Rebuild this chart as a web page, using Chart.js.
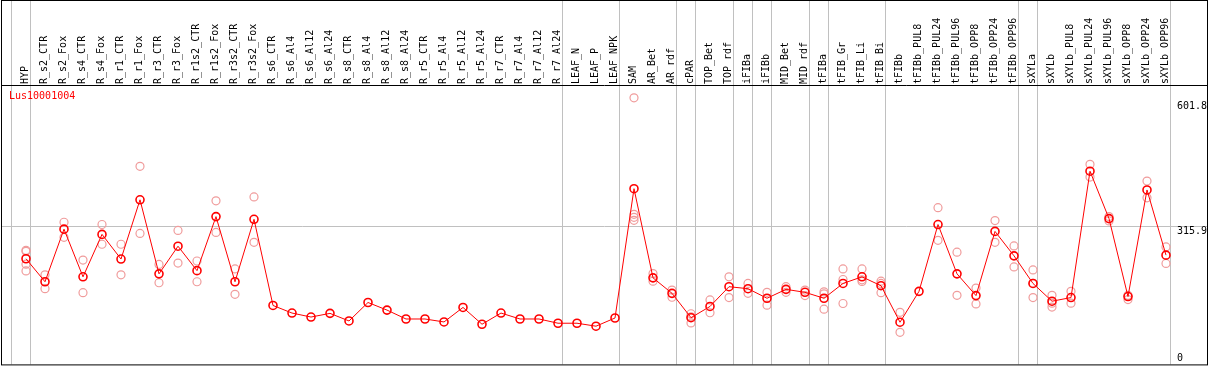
<!DOCTYPE html>
<html>
<head>
<meta charset="utf-8">
<script src="https://cdn.jsdelivr.net/npm/chart.js@4"></script>
<style>
  html, body { margin: 0; padding: 0; background: #fff; }
  canvas { display: block; }
</style>
</head>
<body>
<canvas id="expr" width="1209" height="370"></canvas>
<script>
const N = null;

// sample names along the top
const categories = [
  'HYP', 'R_s2_CTR', 'R_s2_Fox', 'R_s4_CTR', 'R_s4_Fox', 'R_r1_CTR', 'R_r1_Fox', 'R_r3_CTR', 'R_r3_Fox', 'R_r1s2_CTR',
  'R_r1s2_Fox', 'R_r3s2_CTR', 'R_r3s2_Fox', 'R_s6_CTR', 'R_s6_Al4', 'R_s6_Al12', 'R_s6_Al24', 'R_s8_CTR', 'R_s8_Al4', 'R_s8_Al12',
  'R_s8_Al24', 'R_r5_CTR', 'R_r5_Al4', 'R_r5_Al12', 'R_r5_Al24', 'R_r7_CTR', 'R_r7_Al4', 'R_r7_Al12', 'R_r7_Al24', 'LEAF_N',
  'LEAF_P', 'LEAF_NPK', 'SAM', 'AR_Bet', 'AR_rdf', 'cPAR', 'TOP_Bet', 'TOP_rdf', 'iFIBa', 'iFIBb',
  'MID_Bet', 'MID_rdf', 'tFIBa', 'tFIB_Gr', 'tFIB_Li', 'tFIB_Bi', 'tFIBb', 'tFIBb_PUL8', 'tFIBb_PUL24', 'tFIBb_PUL96',
  'tFIBb_OPP8', 'tFIBb_OPP24', 'tFIBb_OPP96', 'sXYLa', 'sXYLb', 'sXYLb_PUL8', 'sXYLb_PUL24', 'sXYLb_PUL96', 'sXYLb_OPP8', 'sXYLb_OPP24',
  'sXYLb_OPP96'
];

// mean expression per sample
const meanVals = [
  242.0, 189.3, 309.8, 200.6, 297.8, 241.3, 377.0, 207.4, 270.7, 214.8,
  338.5, 189.3, 332.4, 135.0, 117.6, 108.5, 116.9, 99.5, 141.8, 124.4,
  104.0, 104.0, 97.2, 130.5, 92.0, 117.6, 104.0, 104.0, 94.3, 94.3,
  87.5, 106.3, 402.5, 198.3, 162.8, 107.0, 132.7, 178.0, 173.4, 151.5,
  171.9, 165.1, 151.5, 185.4, 200.6, 180.2, 96.6, 167.3, 320.4, 207.4,
  157.6, 304.6, 248.7, 185.4, 144.7, 153.1, 442.5, 334.0, 155.4, 399.6,
  250.3
];

// replicate values (null = no replicate)
const rep1 = [
  261.2, 205.1, 325.6, 239.0, 320.4, 275.2, 453.8, 229.1, 306.9, 236.8,
  374.7, 218.7, 383.7, N, N, N, N, N, N, N,
  N, N, N, N, N, N, N, N, N, N,
  N, N, 610.6, 208.0, 170.3, 116.0, 147.7, 200.6, 185.4, 165.1,
  178.0, 170.3, 166.2, 218.7, 218.7, 190.6, 119.2, N, 358.9, 257.1,
  174.8, 329.5, 271.4, 216.4, 158.3, 167.3, 458.4, 338.5, 158.3, 419.9,
  269.1
];
const rep2 = [
  258.9, 173.4, 291.0, 164.4, 275.2, 205.1, 300.1, 187.0, 232.2, 189.3,
  302.3, 160.6, 279.7, N, N, N, N, N, N, N,
  N, N, N, N, N, N, N, N, N, N,
  N, N, 343.7, 190.6, 153.8, 95.0, 118.3, 153.1, 162.8, 135.7,
  165.1, 157.6, 161.7, 194.5, 193.8, 185.4, 73.5, N, 284.2, 158.3,
  138.6, 279.7, 223.2, 153.1, 140.2, 140.2, 429.0, 328.6, 148.6, 381.5,
  231.3
];
const rep3 = [
  229.5, N, N, N, N, N, N, N, N, N,
  N, N, N, N, N, N, N, N, N, N,
  N, N, N, N, N, N, N, N, N, N,
  N, N, 336.9, N, N, 109.0, N, N, N, N,
  N, N, 126.6, 139.5, 190.0, 164.4, N, N, N, N,
  N, N, N, 185.4, 131.2, N, N, N, N, N,
  N
];
const rep4 = [
  214.1, N, N, N, N, N, N, N, N, N,
  N, N, N, N, N, N, N, N, N, N,
  N, N, N, N, N, N, N, N, N, N,
  N, N, 330.1, N, N, N, N, N, N, N,
  N, N, N, N, N, N, N, N, N, N,
  N, N, N, N, N, N, N, N, N, N,
  N
];

const yTickVals = [0, 315.9, 601.8];
const yRefLine = 315.9;
const yMax = 637.7;
// grey separators drawn after these sample indices
const groupEnds = [-1, 0, 28, 31, 34, 35, 37, 38, 39, 41, 42, 45, 52, 53, 60];
const geneId = 'Lus10001004';

const MONO = '"DejaVu Sans Mono", monospace';
Chart.defaults.font.family = MONO;
Chart.defaults.font.size = 10;

// grey guides under the data
function drawGuides(chart) {
  const { ctx, scales: { x, y }, chartArea, width } = chart;
  const x0 = x.getPixelForValue(0);
  const step = x.getPixelForValue(1) - x0;
  ctx.save();
  ctx.lineWidth = 1;
  ctx.strokeStyle = '#c0c0c0';
  ctx.beginPath();
  groupEnds.forEach(i => {
    const px = Math.floor(x0 + (i + 4.5 / 19) * step) + 0.5;
    ctx.moveTo(px, 0);
    ctx.lineTo(px, chartArea.bottom);
  });
  const py = Math.round(y.getPixelForValue(yRefLine)) + 0.5;
  ctx.moveTo(1, py);
  ctx.lineTo(width - 1, py);
  ctx.stroke();
  ctx.restore();
}

const decor = {
  id: 'decor',
  beforeDatasetsDraw(chart) {
    drawGuides(chart);
  },
  afterDraw(chart) {
    const { ctx, scales: { x, y }, chartArea, width } = chart;
    ctx.save();
    ctx.strokeStyle = '#000';
    ctx.lineWidth = 1;
    ctx.strokeRect(1.5, 0.5, width - 3, chartArea.bottom);
    ctx.beginPath();
    ctx.moveTo(1, chartArea.top - 0.5);
    ctx.lineTo(width - 1, chartArea.top - 0.5);
    ctx.stroke();

    ctx.font = '10px ' + MONO;
    ctx.fillStyle = '#000';
    ctx.textAlign = 'left';
    yTickVals.forEach(v => {
      const py = y.getPixelForValue(v);
      const low = py > chartArea.bottom - 12;
      ctx.textBaseline = low ? 'bottom' : 'top';
      ctx.fillText(String(v), x.right + 1.5, low ? py - 1 : py);
    });

    ctx.fillStyle = '#ff0000';
    ctx.textBaseline = 'top';
    ctx.fillText(geneId, 9, chartArea.top + 5);
    ctx.restore();
  }
};

function repSet(vals) {
  return {
    data: vals,
    showLine: false,
    pointRadius: 4,
    pointBorderWidth: 1.2,
    pointBorderColor: '#f09c9c',
    pointBackgroundColor: 'rgba(0,0,0,0)',
    order: 2
  };
}

new Chart(document.getElementById('expr'), {
  type: 'line',
  data: {
    labels: categories,
    datasets: [
      {
        data: meanVals,
        borderColor: '#ff0000',
        borderWidth: 1,
        pointRadius: 4,
        pointBorderWidth: 1.6,
        pointBorderColor: '#ff0000',
        pointBackgroundColor: 'rgba(0,0,0,0)',
        tension: 0,
        order: 1
      },
      repSet(rep1),
      repSet(rep2),
      repSet(rep3),
      repSet(rep4)
    ]
  },
  options: {
    responsive: false,
    animation: false,
    layout: { padding: { left: 16.5, right: 33.5, top: 0, bottom: 2 } },
    plugins: { legend: { display: false }, tooltip: { enabled: false } },
    scales: {
      x: {
        position: 'top',
        offset: true,
        grid: { display: false, drawTicks: false },
        border: { display: false },
        ticks: {
          autoSkip: false,
          minRotation: 90,
          maxRotation: 90,
          padding: 2,
          labelOffset: 11,
          color: '#000',
          font: { family: MONO, size: 10 }
        },
        afterFit(s) { s.height = 86; }
      },
      y: {
        position: 'right',
        min: 0,
        max: yMax,
        border: { display: false },
        grid: { display: false, drawTicks: false },
        ticks: { display: false },
        afterBuildTicks(s) { s.ticks = yTickVals.map(v => ({ value: v })); },
        afterFit(s) { s.width = 0; }
      }
    }
  },
  plugins: [decor]
});
</script>
</body>
</html>
